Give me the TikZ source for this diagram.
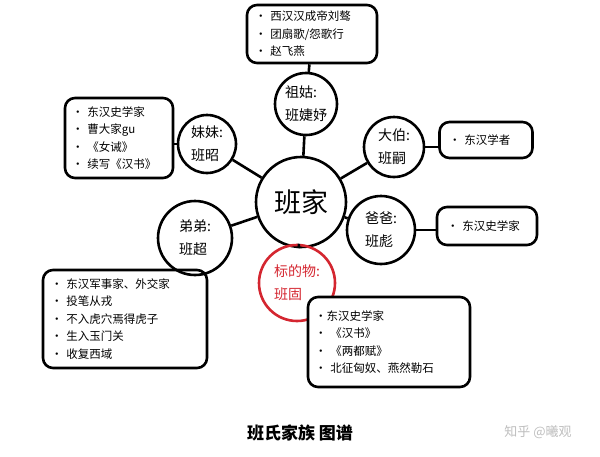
\documentclass[tikz,border=0pt]{standalone}
\usepackage{fontspec}
\setmainfont{Noto Sans CJK SC}
\definecolor{redc}{RGB}{212,38,48}
\definecolor{wm}{RGB}{190,190,190}
\begin{document}
\begin{tikzpicture}[x=1pt,y=-1pt,
  infobox/.style={draw,line width=2.6pt,rounded corners=10pt,align=left,inner sep=0pt,font=\fontsize{11.5}{17.5}\selectfont},
  person/.style={draw,circle,line width=2.6pt,inner sep=0pt,align=left,font=\fontsize{14}{23}\selectfont},
  link/.style={line width=2.6pt}]
\useasboundingbox (0,0) rectangle (600,456);
% boxes
\node[infobox,minimum width=130pt,minimum height=58pt,text width=114pt] (bzy) at (312,34) {• 西汉汉成帝刘骜\\• 团扇歌/怨歌行\\• 赵飞燕};
\node[infobox,minimum width=108pt,minimum height=80pt,text width=94pt] (bmm) at (119,138) {• 东汉史学家\\• 曹大家gu\\• 《女诫》\\• 续写《汉书》};
\node[infobox,minimum width=93pt,minimum height=36pt,text width=74pt] (bdb) at (486,140) {• 东汉学者};
\node[infobox,minimum width=100pt,minimum height=38pt,text width=80pt] (bbb) at (487,226) {• 东汉史学家};
\node[infobox,minimum width=164pt,minimum height=98pt,text width=148pt] (bdd) at (125,319) {• 东汉军事家、外交家\\• 投笔从戎\\• 不入虎穴焉得虎子\\• 生入玉门关\\• 收复西域};
% circles
\node[person,minimum size=62pt] (zg) at (306,104) {祖姑:\\班婕妤};
\node[person,minimum size=58pt] (mm) at (207,144) {妹妹:\\班昭};
\node[person,minimum size=60pt] (db) at (394,147) {大伯:\\班嗣};
\node[person,minimum size=90pt,font=\fontsize{27}{27}\selectfont] (bj) at (301,202) {班家};
\node[person,minimum size=68pt] (bb) at (381,230) {爸爸:\\班彪};
\node[person,minimum size=74pt] (dd) at (195,238) {弟弟:\\班超};
\node[person,minimum size=76pt,draw=redc,text=redc] (bg) at (297,283) {标的物:\\班固};
\node[infobox,fill=white,minimum width=162pt,minimum height=90pt,text width=148pt] (bbg) at (389,342) {•东汉史学家\\• 《汉书》\\• 《两都赋》\\• 北征匈奴、燕然勒石};
% links
\draw[link] (bzy) -- (zg);
\draw[link] (zg) -- (bj);
\draw[link] (bmm.east |- mm) -- (mm);
\draw[link] (mm) -- (bj);
\draw[link] (db) -- (bdb.west |- db);
\draw[link] (db) -- (bj);
\draw[link] (bb) -- (bbb.west |- bb);
\draw[link] (bb) -- (bj);
\draw[link] (dd) -- (bj);
\draw[link] (bj) -- (bg);
% title
\node[font=\fontsize{17}{17}\selectfont\bfseries] (title) at (300,433) {班氏家族 图谱};
\node[font=\fontsize{13}{13}\selectfont,text=wm] (mark) at (538,432) {知乎 @曦观};
\end{tikzpicture}
\end{document}
